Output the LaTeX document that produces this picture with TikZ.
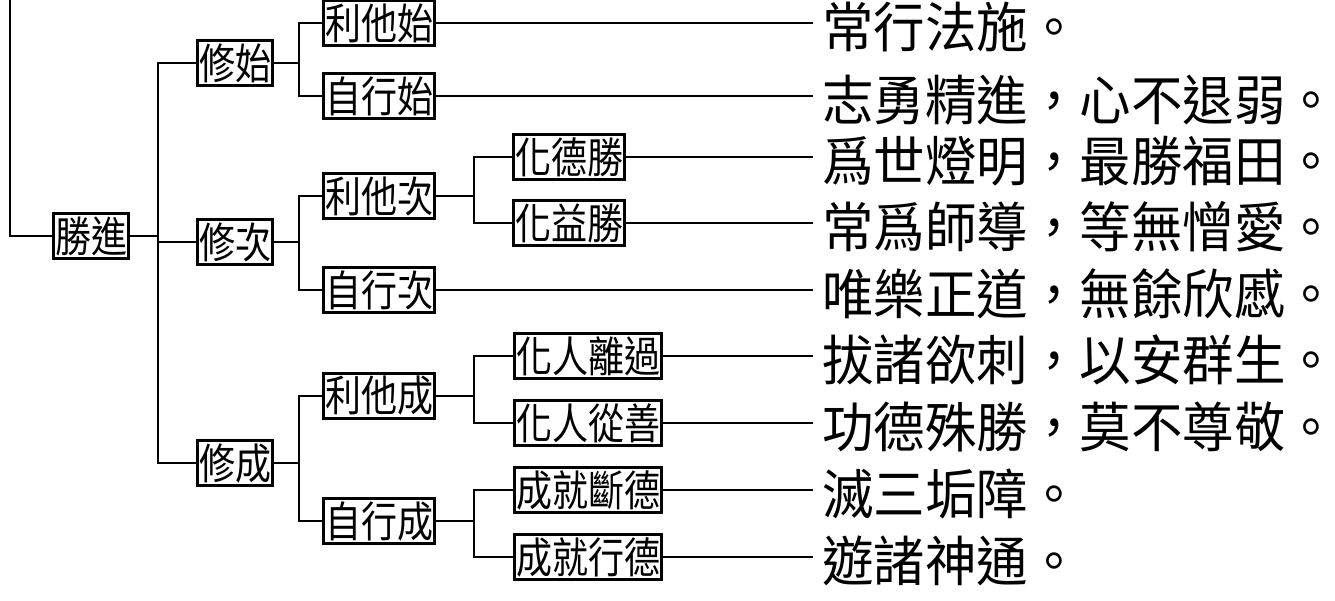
\documentclass[tikz,border=0pt]{standalone}
\usepackage{fontspec}
\usepackage{graphicx}
\newfontfamily\cjk{Noto Sans CJK TC}
\usepackage{tikz}
\newcommand\tall[1]{\scalebox{1}[1.18]{#1}}
\newcommand\versetext[1]{\scalebox{1}[1.05]{#1}}

\begin{document}
\begin{tikzpicture}[x=1pt, y=-1pt,
    box/.style={draw, line width=2.2pt, inner xsep=1.5pt, inner ysep=0pt, minimum height=45pt,
        font=\cjk\fontsize{36}{36}\selectfont},
    leaf/.style={anchor=west, inner sep=0pt, font=\cjk\fontsize{51.5}{51.5}\selectfont},
    branch/.style={line width=2pt},
    twig/.style={line width=1.1pt}]
    \def\gap{25}
    \useasboundingbox (0,0) rectangle (1335,601);
    % root
    \coordinate (top) at (10,0);
    \node[box] (shengjin) at (91,236) {\tall{勝進}};
    \draw[branch] (top) |- (shengjin.west);
    % second level
    \node[box] (xiushi) at (235,63) {\tall{修始}};
    \node[box] (xiuci) at (235,242) {\tall{修次}};
    \node[box] (xiucheng) at (235,463) {\tall{修成}};
    \foreach \c in {xiushi,xiuci,xiucheng}
        \draw[branch] (shengjin.east) -- ++(28,0) |- (\c.west);
    % third level
    \node[box] (ltshi) at (379,23) {\tall{利他始}};
    \node[box] (zxshi) at (379,96) {\tall{自行始}};
    \node[box] (ltci) at (379,196) {\tall{利他次}};
    \node[box] (zxci) at (379,290) {\tall{自行次}};
    \node[box] (ltcheng) at (379,396) {\tall{利他成}};
    \node[box] (zxcheng) at (379,521) {\tall{自行成}};
    \foreach \p/\c in {xiushi/ltshi, xiushi/zxshi, xiuci/ltci, xiuci/zxci, xiucheng/ltcheng, xiucheng/zxcheng}
        \draw[branch] (\p.east) -- ++(\gap,0) |- (\c.west);
    % fourth level
    \node[box] (hds) at (569,157) {\tall{化德勝}};
    \node[box] (hys) at (569,223) {\tall{化益勝}};
    \node[box] (hrlg) at (588,356) {\tall{化人離過}};
    \node[box] (hrcs) at (588,423) {\tall{化人從善}};
    \node[box] (cjdd) at (588,490) {\tall{成就斷德}};
    \node[box] (cjxd) at (588,557) {\tall{成就行德}};
    \foreach \p/\c in {ltci/hds, ltci/hys, ltcheng/hrlg, ltcheng/hrcs, zxcheng/cjdd, zxcheng/cjxd}
        \draw[branch] (\p.east) -- ++(38,0) |- (\c.west);
    % verses
    \coordinate (leafx) at (822,0);
    \coordinate (lineend) at (813,0);
    \foreach \src/\name/\txt in {ltshi/ve1/常行法施。, zxshi/ve2/志勇精進，心不退弱。,
        hds/ve3/爲世燈明，最勝福田。, hys/ve4/常爲師導，等無憎愛。,
        zxci/ve5/唯樂正道，無餘欣慼。, hrlg/ve6/拔諸欲刺，以安群生。,
        hrcs/ve7/功德殊勝，莫不尊敬。, cjdd/ve8/滅三垢障。, cjxd/ve9/遊諸神通。} {
        \node[leaf] (\name) at ([yshift=-4pt]\src.east -| leafx) {\versetext{\txt}};
        \draw[twig] (\src.east) -- (\src.east -| lineend);
    }
\end{tikzpicture}
\end{document}
